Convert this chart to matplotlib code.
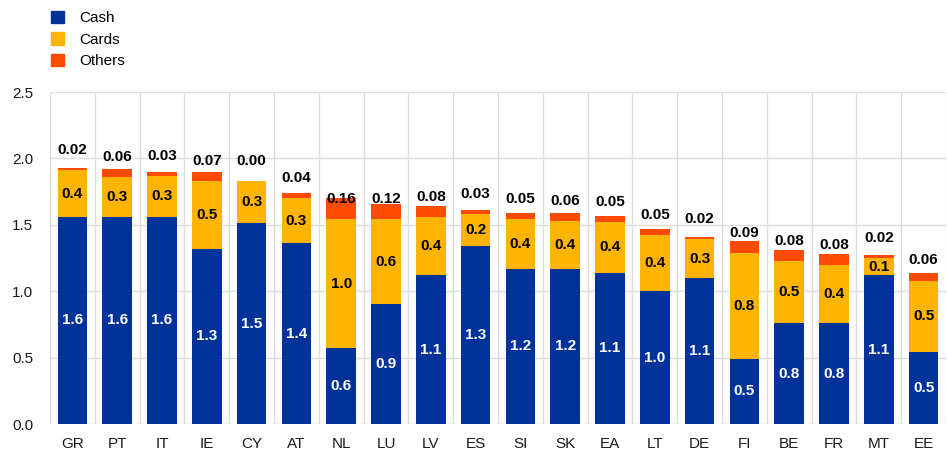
import matplotlib
matplotlib.use("Agg")
import matplotlib.pyplot as plt
from matplotlib.patches import Patch
import numpy as np

plt.rcParams['font.family'] = ['Liberation Sans', 'DejaVu Sans']

countries = ["GR", "PT", "IT", "IE", "CY", "AT", "NL", "LU", "LV", "ES",
             "SI", "SK", "EA", "LT", "DE", "FI", "BE", "FR", "MT", "EE"]
cash = [1.56, 1.56, 1.56, 1.32, 1.51, 1.36, 0.57, 0.90, 1.12, 1.34,
        1.17, 1.17, 1.14, 1.00, 1.10, 0.49, 0.76, 0.76, 1.12, 0.54]
cards = [0.35, 0.30, 0.31, 0.51, 0.32, 0.34, 0.97, 0.64, 0.44, 0.24,
         0.37, 0.36, 0.38, 0.42, 0.29, 0.80, 0.47, 0.44, 0.13, 0.54]
others = [0.02, 0.06, 0.03, 0.07, 0.00, 0.04, 0.16, 0.12, 0.08, 0.03,
          0.05, 0.06, 0.05, 0.05, 0.02, 0.09, 0.08, 0.08, 0.02, 0.06]
series_names = ["Cash", "Cards", "Others"]
yticks = [0.0, 0.5, 1.0, 1.5, 2.0, 2.5]

c_cash = "#003299"
c_cards = "#FFB400"
c_others = "#FF4B00"

fig = plt.figure(figsize=(9.47, 4.54), dpi=100)
ax = fig.add_axes([50/947, 30/454, 896/947, (424-92)/454])

x = np.arange(len(countries))
cash_a = np.array(cash)
cards_a = np.array(cards)
others_a = np.array(others)
w = 0.66
ax.bar(x, cash_a, width=w, color=c_cash, zorder=3)
ax.bar(x, cards_a, width=w, bottom=cash_a, color=c_cards, zorder=3)
ax.bar(x, others_a, width=w, bottom=cash_a + cards_a, color=c_others, zorder=3)

fs = 11
for i in range(len(countries)):
    ax.text(x[i], cash_a[i] / 2, f"{cash_a[i]:.1f}", ha='center', va='center',
            color='white', fontsize=fs, fontweight='bold', zorder=4)
    cl = round(cards_a[i] + 1e-9, 1)
    ax.text(x[i], cash_a[i] + cards_a[i] / 2, f"{cl:.1f}", ha='center', va='center',
            color='black', fontsize=fs, fontweight='bold', zorder=4)
    ax.annotate(f"{others_a[i]:.2f}", (x[i], cash_a[i] + cards_a[i]), xytext=(0, 14.5),
                textcoords='offset points', ha='center', va='center',
                color='black', fontsize=fs, fontweight='bold', zorder=4)

ax.set_xlim(-0.5, len(countries) - 0.5)
ax.set_ylim(0, 2.5)
ax.set_yticks(yticks)
ax.set_yticklabels([f"{v:.1f}" for v in yticks])
ax.set_xticks(x)
ax.set_xticklabels(countries)
ax.set_xticks(np.arange(len(countries) + 1) - 0.5, minor=True)
ax.tick_params(axis='both', which='both', length=0, labelsize=fs, colors='#1a1a1a')
ax.tick_params(axis='x', pad=9)
ax.tick_params(axis='y', pad=12)
ax.grid(True, axis='y', which='major', color='#dcdcdc', linewidth=1, zorder=0)
ax.grid(True, axis='x', which='minor', color='#dcdcdc', linewidth=1, zorder=0)
for s in ax.spines.values():
    s.set_visible(False)

handles = [Patch(color=c_cash), Patch(color=c_cards), Patch(color=c_others)]
fig.legend(handles, series_names, loc='upper left', bbox_to_anchor=(40/947, 1.0),
           frameon=False, fontsize=fs, handlelength=0.9, handleheight=0.9,
           labelspacing=0.45, handletextpad=1.0, borderaxespad=0.3)

fig.savefig("out.png", dpi=100)
